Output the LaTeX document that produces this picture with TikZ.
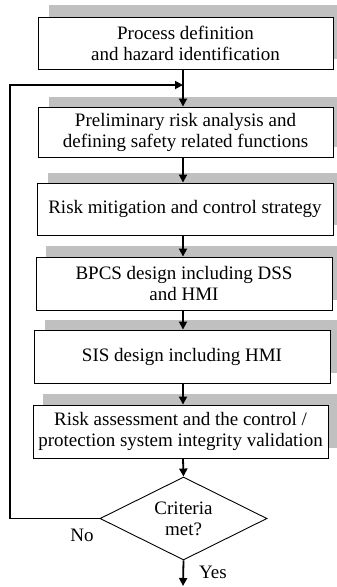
\documentclass[tikz,border=0pt]{standalone}
\usepackage{fontspec}
\setmainfont{Liberation Serif}
\usetikzlibrary{arrows.meta,shapes.geometric}
\definecolor{shade}{RGB}{192,192,192}
\begin{document}
\begin{tikzpicture}[x=1pt,y=-1pt,
  txt/.style={font=\fontsize{19}{21}\selectfont},
  box/.style={draw=black,line width=0.9pt,fill=white,align=center,txt,inner sep=0pt},
  shadowbox/.style={fill=shade},
  conn/.style={line width=1.8pt,-{Triangle[length=8pt,width=8pt]}},
  decision/.style={diamond,draw=black,line width=0.9pt,fill=white,align=center,txt,inner sep=0pt,minimum width=167pt,minimum height=83pt,shape aspect=2}]
\useasboundingbox (0,0) rectangle (337,587);
\fill[shadowbox] (49,5) rectangle (337,59);
\fill[shadowbox] (49,97) rectangle (337,147);
\fill[shadowbox] (48,173) rectangle (337,225);
\fill[shadowbox] (46,246) rectangle (337,300);
\fill[shadowbox] (45,320) rectangle (337,373);
\fill[shadowbox] (43,394) rectangle (337,448);
\node[box,minimum width=295pt,minimum height=52pt] (b1) at (185.5,43) {Process definition\\and hazard identification};
\node[box,minimum width=295pt,minimum height=50pt] (b2) at (185.5,132) {Preliminary risk analysis and\\defining safety related functions};
\node[box,minimum width=296pt,minimum height=52pt] (b3) at (185,209) {Risk mitigation and control strategy};
\node[box,minimum width=296pt,minimum height=53pt] (b4) at (184,283.5) {BPCS design including DSS\\and HMI};
\node[box,minimum width=296pt,minimum height=53pt] (b5) at (182,356.5) {SIS design including HMI};
\node[box,minimum width=295pt,minimum height=53pt] (b6) at (180.5,431.5) {Risk assessment and the control /\\protection system integrity validation};
\node[decision] (d) at (183.5,518.5) {Criteria\\met?};
\coordinate (cx) at (183,0);
\coordinate (j) at (183,85);
\coordinate (fb) at (10,85);
\coordinate (end) at (183,586);
\draw[conn] (b1.south -| cx) -- (b2.north -| cx);
\draw[conn] (b2.south -| cx) -- (b3.north -| cx);
\draw[conn] (b3.south -| cx) -- (b4.north -| cx);
\draw[conn] (b4.south -| cx) -- (b5.north -| cx);
\draw[conn] (b5.south -| cx) -- (b6.north -| cx);
\draw[conn] (b6.south -| cx) -- (d.north);
\draw[conn] (d.west) -| (fb) -- (j);
\draw[conn] (d.south) -- (end);
\node[txt] (no) at (82,535) {No};
\node[txt] (yes) at (213,572) {Yes};
\end{tikzpicture}
\end{document}
